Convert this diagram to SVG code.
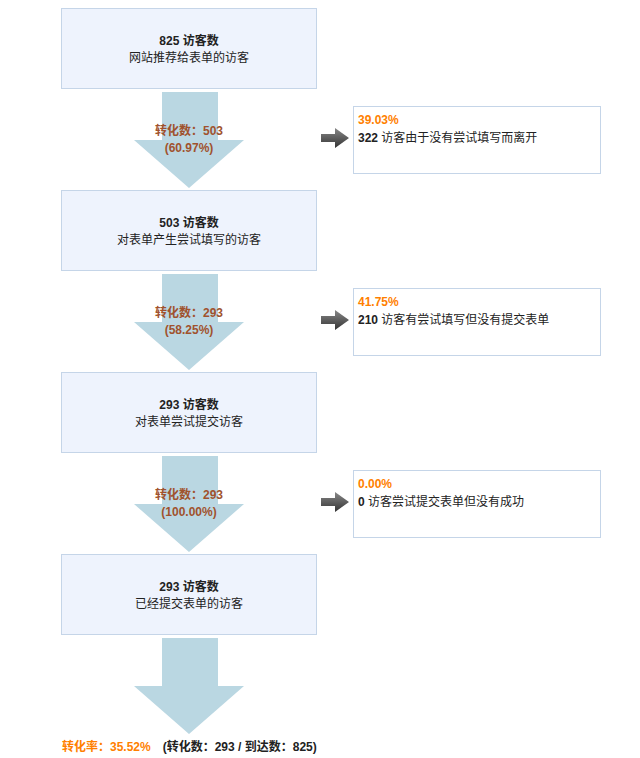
<svg xmlns="http://www.w3.org/2000/svg" width="640" height="758" viewBox="0 0 640 758">
<style>
text{font-family:"Liberation Sans","Noto Sans CJK SC",sans-serif;font-size:12px;fill:#222}
.b{font-weight:bold}
.box{fill:#eef3fd;stroke:#c5d5e8;stroke-width:1}
.side{fill:#fff;stroke:#c5d5e8;stroke-width:1}
.flow{fill:#bad7e2}
.lbl{fill:#a0522d;font-weight:bold;text-anchor:middle}
.pct{fill:#ff7f00;font-weight:bold}
.c{text-anchor:middle}
</style>
<defs>
<linearGradient id="g" x1="0" y1="0" x2="0" y2="1"><stop offset="0" stop-color="#888"/><stop offset="1" stop-color="#333"/></linearGradient>
<path id="ic" d="M0,6 H14 V0 L28,10 L14,20 V14 H0 Z" fill="url(#g)"/>
</defs>
<g id="connectors">
<path class="flow" d="M162,92 H218 V140 H244 L189,188 L134,140 H162 Z"/>
<path class="flow" d="M162,274 H218 V322 H244 L189,370 L134,322 H162 Z"/>
<path class="flow" d="M162,456 H218 V504 H244 L189,552 L134,504 H162 Z"/>
<path class="flow" d="M162,638 H218 V686 H244 L189,734 L134,686 H162 Z"/>
<use href="#ic" x="321" y="128"/>
<use href="#ic" x="321" y="310"/>
<use href="#ic" x="321" y="492"/>
<text class="lbl" x="189" y="135">转化数：503</text><text class="lbl" x="189" y="152">(60.97%)</text>
<text class="lbl" x="189" y="317">转化数：293</text><text class="lbl" x="189" y="334">(58.25%)</text>
<text class="lbl" x="189" y="499">转化数：293</text><text class="lbl" x="189" y="516">(100.00%)</text>
</g>
<g id="n1"><rect class="box" x="61.500" y="8.500" width="255" height="80"/><text class="b c" x="189" y="45">825 访客数</text><text class="c" x="189" y="62">网站推荐给表单的访客</text></g>
<g id="n2"><rect class="box" x="61.500" y="190.500" width="255" height="80"/><text class="b c" x="189" y="227">503 访客数</text><text class="c" x="189" y="244">对表单产生尝试填写的访客</text></g>
<g id="n3"><rect class="box" x="61.500" y="372.500" width="255" height="80"/><text class="b c" x="189" y="409">293 访客数</text><text class="c" x="189" y="426">对表单尝试提交访客</text></g>
<g id="n4"><rect class="box" x="61.500" y="554.500" width="255" height="80"/><text class="b c" x="189" y="591">293 访客数</text><text class="c" x="189" y="608">已经提交表单的访客</text></g>
<g id="s1"><rect class="side" x="353.500" y="106.500" width="247" height="67"/><text class="pct" x="358" y="124">39.03%</text><text x="358" y="142"><tspan class="b">322</tspan> 访客由于没有尝试填写而离开</text></g>
<g id="s2"><rect class="side" x="353.500" y="288.500" width="247" height="67"/><text class="pct" x="358" y="306">41.75%</text><text x="358" y="324"><tspan class="b">210</tspan> 访客有尝试填写但没有提交表单</text></g>
<g id="s3"><rect class="side" x="353.500" y="470.500" width="247" height="67"/><text class="pct" x="358" y="488">0.00%</text><text x="358" y="506"><tspan class="b">0</tspan> 访客尝试提交表单但没有成功</text></g>
<g id="total"><text x="62" y="751"><tspan class="pct">转化率：35.52%</tspan><tspan class="b" dx="12">(转化数：293 / 到达数：825)</tspan></text></g>
</svg>
